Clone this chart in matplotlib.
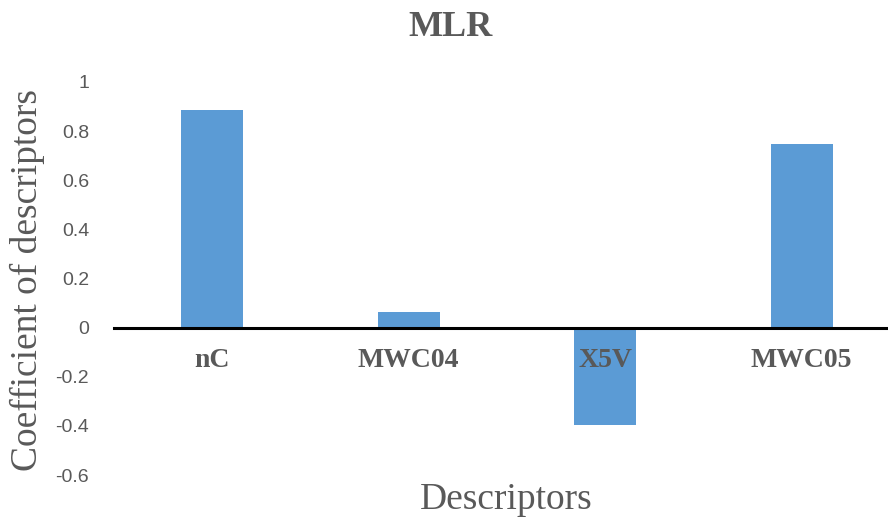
import matplotlib.pyplot as plt

# --- data ---
descriptors = ['nC', 'MWC04', 'X5V', 'MWC05']
coefficients = [0.887, 0.062, -0.397, 0.747]
y_ticks = [-0.6, -0.4, -0.2, 0, 0.2, 0.4, 0.6, 0.8, 1]
y_tick_labels = ['-0.6', '-0.4', '-0.2', '0', '0.2', '0.4', '0.6', '0.8', '1']

grey = '#595959'
bar_color = '#5B9BD5'
serif = ['Liberation Serif', 'DejaVu Serif']

fig = plt.figure(figsize=(8.88, 5.21), dpi=100)
ax = fig.add_axes([114 / 888, 46 / 521, 1 - 114 / 888, 393 / 521])

x = range(len(descriptors))
ax.bar(x, coefficients, width=0.315, color=bar_color, zorder=2)

ax.set_xlim(-0.5, 3.44)
ax.set_ylim(-0.6, 1)

# zero line as the x axis
for s in ['top', 'right', 'left']:
    ax.spines[s].set_visible(False)
ax.spines['bottom'].set_position(('data', 0))
ax.spines['bottom'].set_linewidth(2.2)
ax.spines['bottom'].set_color('black')
ax.spines['bottom'].set_zorder(3)

ax.set_xticks(list(x))
ax.set_xticklabels(descriptors, fontfamily=serif, fontweight='bold',
                   fontsize=20, color=grey)
ax.tick_params(axis='x', length=0, pad=15)
ax.xaxis.set_zorder(5)  # labels drawn over the bars (X5V)

ax.set_yticks(y_ticks)
ax.set_yticklabels(y_tick_labels, fontfamily='Liberation Sans', fontsize=14, color=grey)
ax.tick_params(axis='y', length=0, pad=18)

fig.text(450 / 888, 1 - 27 / 521, 'MLR', ha='center', va='center',
         fontfamily=serif, fontweight='bold', fontsize=26, color=grey)
fig.text(506 / 888, 1 - 500 / 521, 'Descriptors', ha='center', va='center',
         fontfamily=serif, fontsize=27, color=grey)
fig.text(27 / 888, 1 - 280 / 521, 'Coefficient of descriptors', ha='center', va='center',
         rotation=90, fontfamily=serif, fontsize=27, color=grey)

fig.savefig('out.png', dpi=100)
